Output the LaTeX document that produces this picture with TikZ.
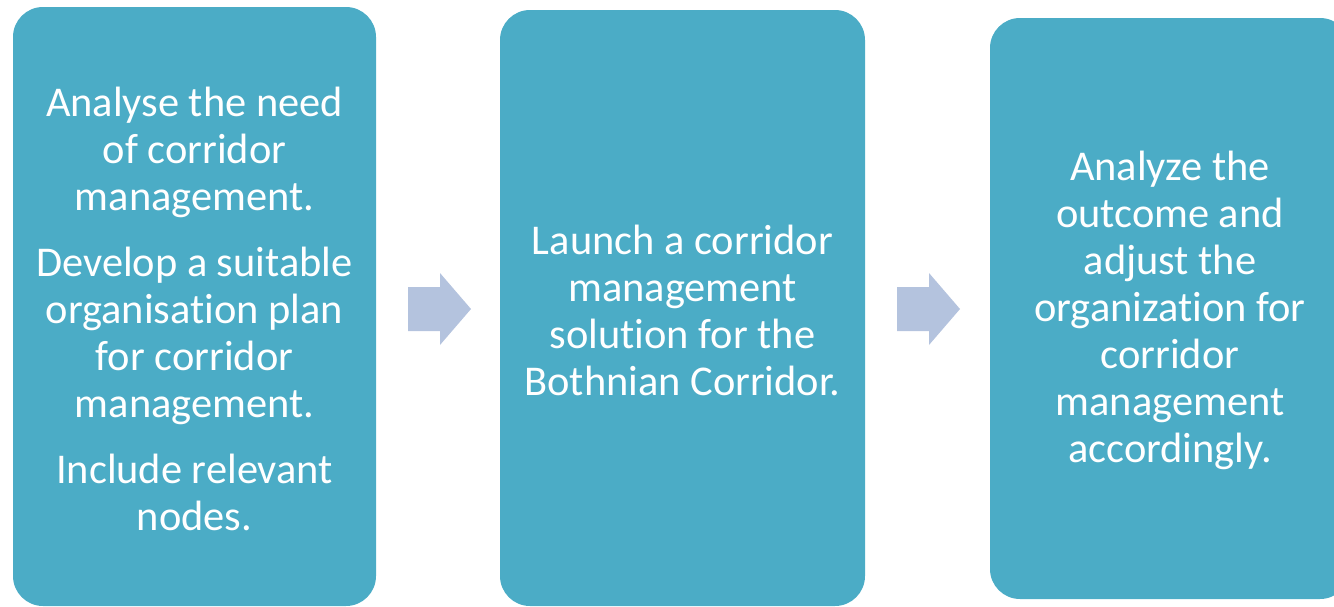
\documentclass[tikz,border=0pt]{standalone}
\usepackage{fontspec}
\setmainfont{Carlito}[Ligatures=NoCommon]
\definecolor{boxblue}{HTML}{4BACC6}
\definecolor{arrowblue}{HTML}{B4C3DE}
\begin{document}
\begin{tikzpicture}[x=1pt,y=-1pt,
  stepbox/.style={fill=boxblue, draw=none, rounded corners=30pt, inner sep=0pt},
  steptext/.style={text=white, align=center, inner sep=0pt, font=\fontsize{42.4}{47}\selectfont},
  blockarrow/.style={fill=arrowblue, draw=none}]
\useasboundingbox (0,0) rectangle (1334,606);
\clip (0,0) rectangle (1334,606);
\node[stepbox, minimum width=363pt, minimum height=599pt] (s1) at (194.5,306.5) {};
\node[stepbox, minimum width=365pt, minimum height=596pt] (s2) at (682.5,308) {};
\node[stepbox, minimum width=360pt, minimum height=581pt] (s3) at (1170,308.5) {};
\node[steptext] (t1) at ([yshift=-2pt]s1.center)
  {Analyse the need\\of corridor\\management.\\[19pt]Develop a suitable\\organisation plan\\for corridor\\management.\\[19pt]Include relevant\\nodes.};
\node[steptext] (t2) at ([yshift=-2pt]s2.center)
  {Launch a corridor\\management\\solution for the\\Bothnian Corridor.};
\node[steptext] (t3) at ([yshift=-2pt]s3.center)
  {Analyze the\\outcome and\\adjust the\\organization for\\corridor\\management\\accordingly.};
\fill[blockarrow] (408,287) -- (440,287) -- (440,273) -- (471,309) -- (440,345) -- (440,331) -- (408,331) -- cycle;
\fill[blockarrow] (897,287) -- (929,287) -- (929,273) -- (960,309) -- (929,345) -- (929,331) -- (897,331) -- cycle;
\end{tikzpicture}
\end{document}
